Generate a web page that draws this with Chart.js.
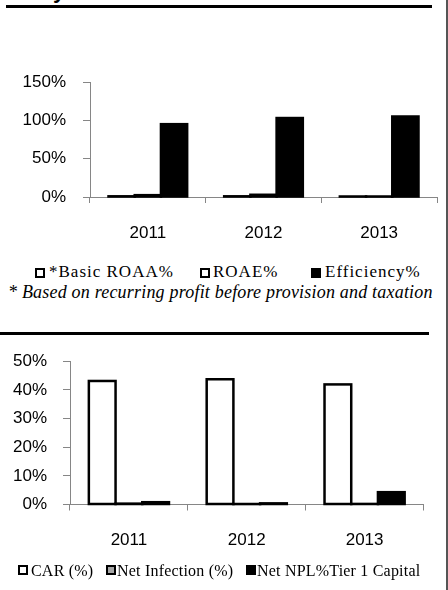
<!DOCTYPE html>
<html>
<head>
<meta charset="utf-8">
<script src="https://cdn.jsdelivr.net/npm/chart.js@4.4.0/dist/chart.umd.min.js"></script>
<style>
  html, body { margin: 0; padding: 0; background: #fff; }
  body { width: 448px; height: 590px; position: relative; overflow: hidden; }
  canvas { position: absolute; left: 0; }
  #c1 { top: 0; }
  #c2 { top: 335px; }
  .rule { position: absolute; background: #000; }
  .lg { position: absolute; font-family: "Liberation Serif", "Times New Roman", serif; color: #000; white-space: nowrap; line-height: 20px; }
  .box { position: absolute; box-sizing: border-box; border: 2px solid #000; width: 10px; height: 10px; }
  #title { position: absolute; left: 25px; top: -20px; font: bold 22px "Liberation Sans", Arial, sans-serif; line-height: 22px; white-space: nowrap; }
  #note { left: 8px; top: 282px; font-size: 18px; font-style: italic; letter-spacing: 0.2px; }
</style>
</head>
<body>
<div id="title">Key Ratios</div>
<div class="rule" style="left:6px;top:5px;width:426px;height:3px"></div>
<div class="rule" style="left:0;top:332px;width:429px;height:2.5px"></div>
<div class="rule" style="left:446px;top:0;width:1.5px;height:590px;background:#555"></div>
<canvas id="c1" width="448" height="250"></canvas>
<canvas id="c2" width="448" height="255"></canvas>
<div id="lg1"></div>
<div id="lg2"></div>
<div class="lg" id="note">* Based on recurring profit before provision and taxation</div>

<script>
// Categories
const years = ['2011', '2012', '2013'];

// Profitability ratios (%)
const basicRoaa = [0.9, 0.9, 0.6];
const roae = [2.4, 2.9, 0.6];
const efficiency = [95, 103, 105];

// Capital and asset quality ratios (%)
const car = [43.1, 43.7, 41.9];
const netInfection = [0.3, 0.15, 0.2];
const netNplTier1 = [0.8, 0.4, 4.3];

// Legend labels
const profitLabels = ['*Basic ROAA%', 'ROAE%', 'Efficiency%'];
const capitalLabels = ['CAR (%)', 'Net Infection (%)', 'Net NPL%Tier 1 Capital'];

const AXIS_GREY = '#868686';
const TICK_FONT = { family: '"Liberation Sans", Arial, sans-serif', size: 17 };

// Outline every bar with a stroke centred on its edges, so even
// near-zero bars show up as a solid dark line on the axis.
const barOutline = {
  id: 'barOutline',
  afterDatasetsDraw(chart, args, opts) {
    const ctx = chart.ctx;
    ctx.save();
    ctx.lineWidth = opts.width;
    ctx.strokeStyle = opts.color;
    ctx.lineJoin = 'miter';
    chart.data.datasets.forEach((ds, i) => {
      chart.getDatasetMeta(i).data.forEach(el => {
        const p = el.getProps(['x', 'y', 'base', 'width'], true);
        ctx.strokeRect(p.x - p.width / 2, p.y, p.width, p.base - p.y);
      });
    });
    ctx.restore();
  }
};

function bar(label, data, fill) {
  return {
    label, data,
    backgroundColor: fill,
    borderColor: '#000',
    borderWidth: 0,
    categoryPercentage: 0.68,
    barPercentage: 1.0
  };
}

function buildScales(yMax, yStep, yWidth, yPad, xHeight) {
  return {
    x: {
      grid: { offset: true, drawOnChartArea: false, drawTicks: true, tickLength: 6, color: AXIS_GREY, lineWidth: 1 },
      border: { display: true, color: AXIS_GREY, width: 1 },
      ticks: { color: '#000', font: TICK_FONT, padding: 20, maxRotation: 0 },
      afterFit: s => { s.height = xHeight; }
    },
    y: {
      min: 0, max: yMax,
      grid: { drawOnChartArea: false, drawTicks: true, tickLength: 7, color: AXIS_GREY, lineWidth: 1 },
      border: { display: true, color: AXIS_GREY, width: 1 },
      ticks: { stepSize: yStep, color: '#000', font: TICK_FONT, padding: yPad, callback: v => v + '%' },
      afterFit: s => { s.width = yWidth; }
    }
  };
}

const common = {
  responsive: false,
  devicePixelRatio: 1,
  animation: false,
  events: [],
  plugins: {
    legend: { display: false },
    tooltip: { enabled: false },
    barOutline: { width: 2.5, color: '#000' }
  }
};

const profitChart = new Chart(document.getElementById('c1'), {
  type: 'bar',
  data: {
    labels: years,
    datasets: [
      bar(profitLabels[0], basicRoaa, '#fff'),
      bar(profitLabels[1], roae, '#fff'),
      bar(profitLabels[2], efficiency, '#000')
    ]
  },
  options: Object.assign({}, common, {
    layout: { padding: { top: 82, right: 11, left: 0, bottom: 0 } },
    scales: buildScales(150, 50, 90, 17, 53)
  }),
  plugins: [barOutline]
});

const capitalChart = new Chart(document.getElementById('c2'), {
  type: 'bar',
  data: {
    labels: years,
    datasets: [
      bar(capitalLabels[0], car, '#fff'),
      bar(capitalLabels[1], netInfection, '#a6a6a6'),
      bar(capitalLabels[2], netNplTier1, '#000')
    ]
  },
  options: Object.assign({}, common, {
    layout: { padding: { top: 24.5, right: 24.5, left: 0, bottom: 0 } },
    scales: buildScales(50, 10, 70, 16, 85.5)
  }),
  plugins: [barOutline]
});

// HTML legends built from each chart's datasets
function drawLegend(chart, hostId, spots, style) {
  const host = document.getElementById(hostId);
  chart.data.datasets.forEach((ds, i) => {
    const b = document.createElement('div');
    b.className = 'box';
    b.style.left = spots[i].box + 'px';
    b.style.top = style.boxTop + 'px';
    b.style.background = ds.backgroundColor;
    host.appendChild(b);
    const t = document.createElement('div');
    t.className = 'lg';
    t.textContent = ds.label;
    t.style.left = spots[i].text + 'px';
    t.style.top = style.textTop + 'px';
    t.style.fontSize = style.size + 'px';
    t.style.letterSpacing = style.spacing + 'px';
    host.appendChild(t);
  });
}

drawLegend(profitChart, 'lg1',
  [{ box: 35, text: 49 }, { box: 200, text: 213 }, { box: 311, text: 325 }],
  { boxTop: 268, textTop: 261.5, size: 17, spacing: 1 });

drawLegend(capitalChart, 'lg2',
  [{ box: 18, text: 31 }, { box: 106, text: 117 }, { box: 246, text: 257 }],
  { boxTop: 565, textTop: 561, size: 16, spacing: 0.2 });
</script>
</body>
</html>
